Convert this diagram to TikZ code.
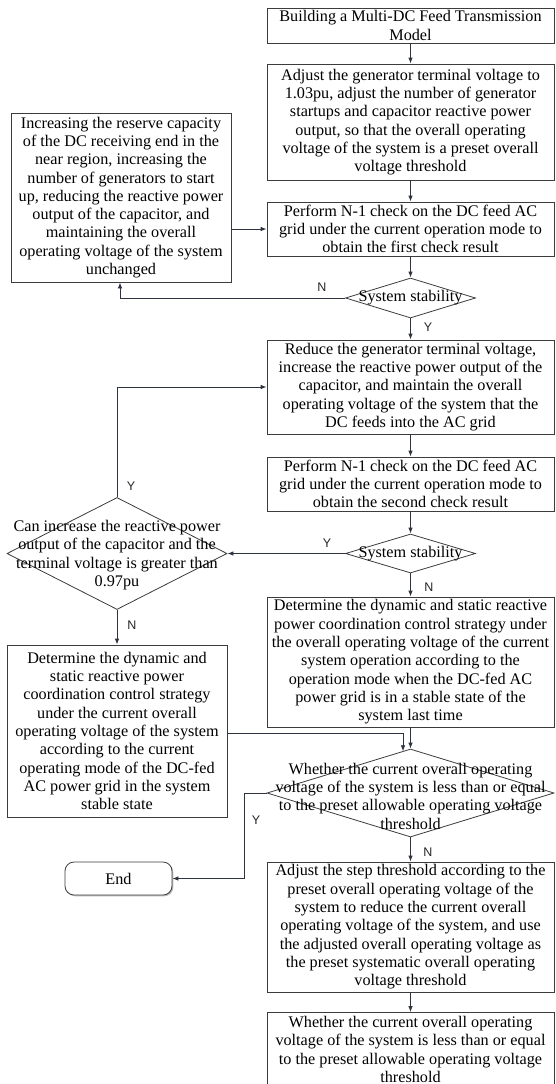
\documentclass[tikz,border=0pt]{standalone}
\usepackage{fontspec}
\setmainfont{Liberation Serif}
\newfontfamily\lblfont{Liberation Sans}
\usetikzlibrary{shapes.geometric,arrows.meta,shadows}
\definecolor{bordc}{RGB}{60,60,60}
\definecolor{linec}{RGB}{45,52,64}
\begin{document}
\begin{tikzpicture}[x=1pt,y=-1pt,
  txt/.style={font=\fontsize{16.2}{18.3}\selectfont, align=center},
  box/.style={txt, draw=bordc, line width=0.8pt, fill=white, inner sep=0pt,
    drop shadow={shadow xshift=1.3pt, shadow yshift=-1.3pt, opacity=0.45, fill=black!60}},
  dia/.style={diamond, draw=bordc, line width=0.8pt, inner sep=0pt, fill=white},
  lbl/.style={font=\lblfont\fontsize{12.5}{14}\selectfont, text=black!85},
  conn/.style={draw=linec, line width=0.8pt, -{Latex[length=6pt,width=4.5pt]}},
]
\useasboundingbox (0,0) rectangle (555,1084);
\clip (0,0) rectangle (555,1084);

% right column boxes
\node[box, minimum width=287, minimum height=35] (b1) at (410.5,25.5)
  {Building a Multi-DC Feed Transmission\\Model};
\node[box, minimum width=287, minimum height=116] (b2) at (410.5,122)
  {Adjust the generator terminal voltage to\\1.03pu, adjust the number of generator\\startups and capacitor reactive power\\output, so that the overall operating\\voltage of the system is a preset overall\\voltage threshold};
\node[box, minimum width=287, minimum height=54] (b3) at (410.5,229)
  {Perform N-1 check on the DC feed AC\\grid under the current operation mode to\\obtain the first check result};
\node[dia, minimum width=130, minimum height=40] (d1) at (410.5,298) {};
\node[txt] (d1t) at (d1) {System stability};
\node[box, minimum width=287, minimum height=94] (b4) at (410.5,387)
  {Reduce the generator terminal voltage,\\increase the reactive power output of the\\capacitor, and maintain the overall\\operating voltage of the system that the\\DC feeds into the AC grid};
\node[box, minimum width=287, minimum height=54] (b5) at (410.5,484)
  {Perform N-1 check on the DC feed AC\\grid under the current operation mode to\\obtain the second check result};
\node[dia, minimum width=130, minimum height=39] (d2) at (410.5,553.5) {};
\node[txt] (d2t) at (d2) {System stability};
\node[box, minimum width=287, minimum height=130] (b7) at (410.5,662)
  {Determine the dynamic and static reactive\\power coordination control strategy under\\the overall operating voltage of the current\\system operation according to the\\operation mode when the DC-fed AC\\power grid is in a stable state of the\\system last time};
\node[dia, minimum width=287, minimum height=88] (d4) at (410.5,793) {};
\node[txt] (d4t) at (410.5,796) {Whether the current overall operating\\voltage of the system is less than or equal\\to the preset allowable operating voltage\\threshold};
\node[box, minimum width=287, minimum height=130] (b8) at (410.5,927)
  {Adjust the step threshold according to the\\preset overall operating voltage of the\\system to reduce the current overall\\operating voltage of the system, and use\\the adjusted overall operating voltage as\\the preset systematic overall operating\\voltage threshold};
\node[box, minimum width=287, minimum height=74] (b9) at (410.5,1049.5)
  {Whether the current overall operating\\voltage of the system is less than or equal\\to the preset allowable operating voltage\\threshold};

% left column
\node[box, minimum width=220, minimum height=169] (lb) at (121,197.5)
  {Increasing the reserve capacity\\of the DC receiving end in the\\near region, increasing the\\number of generators to start\\up, reducing the reactive power\\output of the capacitor, and\\maintaining the overall\\operating voltage of the system\\unchanged};
\node[dia, minimum width=220, minimum height=112] (d3) at (117,553.5) {};
\node[txt] (d3t) at (117,555) {Can increase the reactive power\\output of the capacitor and the\\terminal voltage is greater than\\0.97pu};
\node[box, minimum width=220, minimum height=172] (b6) at (117,731)
  {Determine the dynamic and\\static reactive power\\coordination control strategy\\under the current overall\\operating voltage of the system\\according to the current\\operating mode of the DC-fed\\AC power grid in the system\\stable state};
\node[box, rounded corners=9pt, minimum width=107, minimum height=33] (end) at (118.5,878.5) {End};

% connectors
\draw[conn] (b1) -- (b2);
\draw[conn] (b2) -- (b3);
\draw[conn] (b3) -- (d1);
\draw[conn] (d1) -- (b4);
\draw[conn] (d1.west) -| (lb.south -| 120,0);
\draw[conn] (lb.east |- b3.west) -- (b3.west);
\draw[conn] (b4) -- (b5);
\draw[conn] (b5) -- (d2);
\draw[conn] (d2.west) -- (d3.east);
\draw[conn] (d2) -- (b7);
\draw[conn] (d3.north) |- (b4.west);
\draw[conn] (d3) -- (b6);
\coordinate (c4) at (403,751.3);
\draw[conn] (b6.east |- 0,733) -| (c4);
\draw[conn] (b7) -- (d4);
\coordinate (c5) at (244,793);
\draw[conn] (d4.west) -- (c5) |- (end.east);
\draw[conn] (d4) -- (b8);
\draw[conn] (b8) -- (b9);

% labels
\node[lbl] (l1) at (322,287) {N};
\node[lbl] (l2) at (428,327) {Y};
\node[lbl] (l3) at (327,543) {Y};
\node[lbl] (l4) at (429,587) {N};
\node[lbl] (l5) at (131,486) {Y};
\node[lbl] (l6) at (132,625) {N};
\node[lbl] (l7) at (256,820) {Y};
\node[lbl] (l8) at (428,852) {N};
\end{tikzpicture}
\end{document}
